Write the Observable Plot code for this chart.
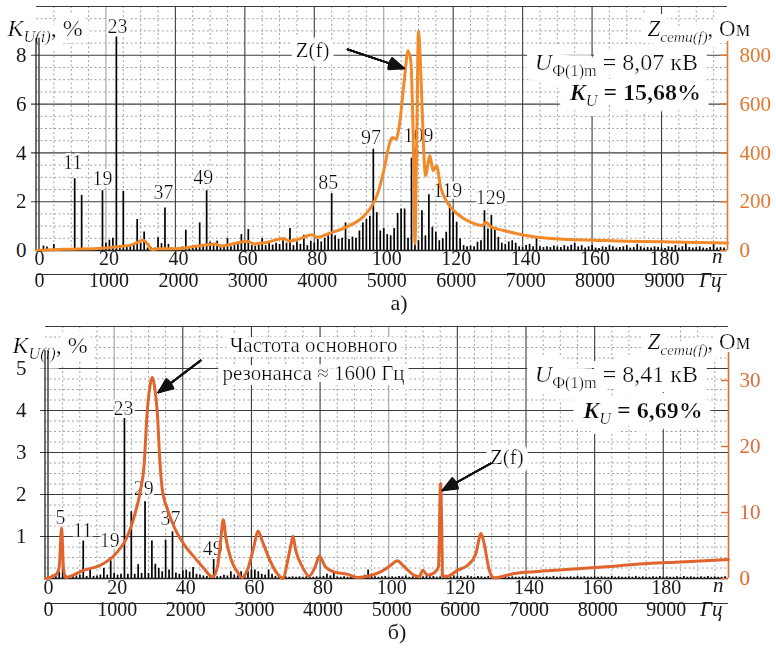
<!DOCTYPE html>
<html><head><meta charset="utf-8">
<script src="https://cdn.jsdelivr.net/npm/d3@7"></script>
<script src="https://cdn.jsdelivr.net/npm/@observablehq/plot@0.6"></script>
<style>
body{margin:0;background:#fff;}
#chart svg{display:block;}
</style></head><body><div id="chart"></div>
<script>
// harmonic numbers n (category axis)
const harmonics = d3.range(1, 199);

// ---- panel а) : harmonic voltage spectrum K_U(i), %
const topK = [
 0,0.18,0.14,0.03,0.25,0.03,0.02,0.03,0.02,0.03,
 2.94,0.03,2.26,0.02,0.03,0.02,0.03,0.05,2.45,0.3,
 0.42,0.5,8.75,0.2,2.42,0.15,0.2,0.22,1.27,0.3,
 0.76,0.1,0.12,0.1,0.52,0.28,1.74,0.25,0.1,0.08,
 0.12,0.15,0.83,0.12,0.18,0.15,1.13,0.2,2.45,0.34,
 0.2,0.38,0.22,0.18,0.49,0.15,0.2,0.25,0.65,0.3,
 0.86,0.2,0.18,0.25,0.49,0.2,0.3,0.22,0.3,0.25,
 0.4,0.3,0.9,0.2,0.35,0.25,0.63,0.2,0.38,0.3,
 0.45,0.35,0.5,0.6,2.33,0.6,0.45,0.5,1.13,0.45,
 0.55,0.5,0.8,1.13,1.27,1.4,4.15,1.55,0.8,0.9,
 0.65,0.6,0.9,1.52,1.7,1.7,0.5,3.78,4.15,0.4,
 1.63,0.6,2.28,0.95,0.75,0.4,0.48,0.75,1.9,1.7,
 1.16,0.48,0.2,0.15,0.18,0.15,0.34,0.4,1.63,0.88,
 1.43,0.82,0.54,0.3,0.25,0.35,0.4,0.3,0.15,0.12,
 0.2,0.25,0.15,0.52,0.15,0.12,0.15,0.12,0.18,0.15,
 0.12,0.2,0.15,0.22,0.3,0.15,0.2,0.1,0.15,0.2,
 0.1,0.08,0.15,0.12,0.2,0.15,0.1,0.12,0.15,0.2,
 0.1,0.12,0.25,0.15,0.1,0.12,0.1,0.15,0.12,0.1,
 0.08,0.15,0.12,0.2,0.1,0.15,0.28,0.12,0.1,0.12,
 0.15,0.1,0.08,0.12,0.25,0.1,0.12,0.1
];
// network impedance Z(f), Ohm, sampled at harmonic number n
const topZn = [0,7.9,17.5,22.3,27.1,29,30.7,32.1,33.3,34.8,39.6,46.3,51.6,53,55.9,60.7,62.6,65.5,71.3,72.7,75.1,79.4,80.8,84.6,89.4,94.2,96.2,98.2,100.1,101.6,102.5,103.5,104.4,105.9,107,107.8,108.5,109,109.5,110,110.7,111.4,112,113.3,114.2,115.2,116.4,118.3,121.2,125,128.4,129.4,130.8,134.6,144.2,153.8,163.4,173,182.6,199];
const topZ = [0,5,8,14,22,33,42,25,4,7,7,18,27,18,25,38,27,31,49,38,45,65,54,72,97,140,174,231,333,435,463,456,503,694,819,776,449,27,449,900,720,449,306,388,327,347,259,197,150,116,102,116,98,82,54,45,41,37,35,31];
const topLabelN = [11,19,23,37,49,85,97,109,119,129];
const topLabelX = [10.4,19,23.3,36.6,48,84,96.3,110,118.4,130.8];
const topLabelY = [3.6,2.94,9.18,2.37,2.98,2.78,4.61,4.69,2.45,2.16];

// ---- panel б)
const botK = [
 0,0.08,0.1,0.15,0.6,0.06,0.05,0.05,0.06,0.08,
 0.89,0.05,0.2,0.05,0.06,0.08,0.24,0.08,0.42,0.12,
 0.08,0.1,3.81,0.1,1.59,0.1,0.33,0.12,1.83,0.12,
 0.89,0.34,0.24,0.16,0.91,0.2,1.11,0.13,0.1,0.18,
 0.2,0.15,0.26,0.1,0.08,0.06,0.05,0.06,0.45,0.04,
 0.05,0.08,0.06,0.16,0.08,0.06,0.16,0.1,0.16,0.2,
 0.2,0.16,0.1,0.08,0.2,0.1,0.05,0.04,0.03,0.04,
 0.03,0.04,0.03,0.04,0.03,0.04,0.05,0.03,0.04,0.03,
 0.05,0.1,0.06,0.12,0.04,0.03,0.04,0.03,0.04,0.03,
 0.04,0.05,0.08,0.2,0.1,0.04,0.03,0.04,0.05,0.03,
 0.04,0.03,0.05,0.04,0.06,0.03,0.04,0.05,0.03,0.04,
 0.06,0.04,0.05,0.03,0.04,0.03,0.05,0.04,0.06,0.04,
 0.05,0.03,0.06,0.04,0.03,0.05,0.04,0.03,0.05,0.04,
 0.03,0.04,0.03,0.05,0.03,0.04,0.03,0.03,0.04,0.03,
 0.05,0.03,0.04,0.03,0.03,0.04,0.03,0.05,0.03,0.04,
 0.03,0.03,0.04,0.03,0.05,0.03,0.04,0.03,0.03,0.04,
 0.03,0.04,0.03,0.03,0.05,0.03,0.04,0.03,0.03,0.04,
 0.03,0.05,0.03,0.04,0.03,0.03,0.04,0.03,0.05,0.03,
 0.04,0.03,0.03,0.04,0.03,0.05,0.03,0.04,0.03,0.03,
 0.04,0.03,0.05,0.03,0.04,0.03,0.03,0.04
];
const botZn = [0,1.2,3.2,4.0,4.7,5.2,5.8,7.3,11.2,16,20.9,23.8,25.8,27.7,28.7,29.6,30.4,31.1,31.8,32.6,33.3,34,35.6,37.5,40.5,43.4,46.2,48.6,50.1,51,51.8,52.5,54,55.9,57.3,58.8,60.7,61.9,63.2,65.6,67.5,69.3,70.4,71.6,72.1,72.9,74.8,76.8,78.6,79.8,81.5,84,87.9,90.8,93.8,97.6,100.6,102.5,104.5,107.4,108.9,109.9,111.3,113.3,114.5,115.1,115.5,115.7,117.1,120.1,123,125.4,126.9,127.8,129.3,130.7,136.6,146.3,156,165.8,175.5,185.2,199];
const botZ = [0,0.15,0.66,1.8,7.7,1.8,0.15,0.35,1.26,2.0,4.0,6.3,9.3,13.4,17,25,29,30.5,29,25,18,13.6,10.4,7.8,5.05,3.2,1.5,0.25,1.77,5.6,8.9,6.3,3.0,1.0,0.15,1.26,4.8,7.2,5.6,2.5,0.76,0,2.3,5.3,6.4,4.3,1.8,0.35,1.8,3.4,1.8,1.0,0.66,0.15,0.35,1.0,2.0,2.7,1.8,0.5,0.25,1.26,0.5,0.86,1.77,14.4,6.3,0.35,0.35,1.26,2.0,3.8,6.8,5.3,1.26,0.1,0.76,1.16,1.5,1.87,2.27,2.5,2.88];
const botLabelN = [5,11,19,23,29,37,49];
const botLabelX = [4.4,10.8,18.7,22.7,28.6,36.4,48.7];
const botLabelY = [1.45,1.14,0.9,4.05,2.14,1.43,0.71];

// ---- ticks
const nTicks = [0,20,40,60,80,100,120,140,160,180];
const hzLabels = ["0","1000","2000","3000","4000","5000","6000","7000","8000","9000"];
const topKTicks = [0,2,4,6,8];
const topZTicks = [0,200,400,600,800];
const botKTicks = [1,2,3,4,5];
const botZTicks = [0,10,20,30];

// ---- annotation texts
const RICH = {
  "KU(i), %": {size: 24, segs: [["K","i"],["U(i)","is"],[", %",""]]},
  "Zсети(f), Ом": {size: 23, segs: [["Z","i"],["сети(f)","is"],[", Ом",""]]},
  "UФ(1)m = 8,07 кВ": {size: 24, segs: [["U","i"],["Ф(1)m","s"],[" = 8,07 кВ",""]]},
  "KU = 15,68%": {size: 24, segs: [["K","ib"],["U","is"],[" = 15,68%","b"]]},
  "UФ(1)m = 8,41 кВ": {size: 24, segs: [["U","i"],["Ф(1)m","s"],[" = 8,41 кВ",""]]},
  "KU = 6,69%": {size: 24, segs: [["K","ib"],["U","is"],[" = 6,69%","b"]]}
};

function richify(svg, H) {
  d3.select(svg).selectAll("text").each(function() {
    const r = RICH[this.textContent];
    if (!r) return;
    const el = d3.select(this);
    el.text(null);
    let shifted = false;
    const sh = 0.26 * r.size;
    for (const [t, f] of r.segs) {
      const ts = el.append("tspan").text(t);
      if (f.includes("i")) ts.attr("font-style", "italic");
      if (f.includes("b")) ts.attr("font-weight", "bold");
      if (f.includes("s")) {
        ts.attr("font-size", (0.68 * r.size) + "px");
        if (!shifted) { ts.attr("dy", sh); shifted = true; }
      } else if (shifted) { ts.attr("dy", -sh); shifted = false; }
    }
  });
  // white halo as one filter per mark group (no duplicate text)
  const defs = d3.select(svg).insert("defs", ":first-child");
  const made = new Set();
  d3.select(svg).selectAll("g").each(function() {
    if (this.getAttribute("stroke") !== "white") return;
    const r = Math.round(parseFloat(this.getAttribute("stroke-width") || "6") / 2);
    const id = `halo-${H}-${r}`;
    if (!made.has(id)) {
      made.add(id);
      const f = defs.append("filter").attr("id", id).attr("filterUnits", "userSpaceOnUse")
        .attr("x", -400).attr("y", -400).attr("width", W + 800).attr("height", 1200);
      f.append("feMorphology").attr("in", "SourceAlpha").attr("operator", "dilate").attr("radius", r).attr("result", "d");
      f.append("feFlood").attr("flood-color", "white").attr("result", "w");
      f.append("feComposite").attr("in", "w").attr("in2", "d").attr("operator", "in").attr("result", "h");
      const m = f.append("feMerge");
      m.append("feMergeNode").attr("in", "h");
      m.append("feMergeNode").attr("in", "SourceGraphic");
    }
    this.removeAttribute("stroke-width");
    this.setAttribute("stroke", "none");
    this.setAttribute("filter", `url(#${id})`);
  });
}

const W = 776;
const FONT = "'Liberation Serif','Times New Roman',Times,serif";

function arrowMarks(arr, color) {
  return [8, 18, 28, 38, 46].map(a => Plot.arrow(arr, {
    x1: "x1", y1: "y1", x2: "x2", y2: "y2",
    stroke: color, strokeWidth: 1.8, headLength: 13, headAngle: a
  }));
}

function panel(c) {
  const zk = v => v * c.zScale;
  const bars = harmonics.map((n, i) => ({n, k: c.K[i]}));
  const zline = c.zN.map((n, i) => ({n, z: c.Z[i]}));
  const fw = W - c.ml - c.mr;
  const minorX = d3.range(5, 199, 5).filter(n => n % 20 !== 0);
  const nMinor = Math.round(c.yMax / c.minorStep);
  const minorY = d3.range(1, nMinor).map(i => i * c.minorStep)
    .filter(v => Math.abs(v / c.majorStep - Math.round(v / c.majorStep)) > 1e-6);
  const majorY = d3.range(c.majorStep, c.yMax - 1e-6, c.majorStep);
  const lightX = [20, 100];
  const darkX = [40, 60, 80, 120, 140, 160, 180];
  const labels = c.labelN.map((n, i) => ({n, x: c.labelX[i], y: c.labelY[i]}));
  const dotted = {stroke: "#8a8a8a", strokeWidth: 0.8, strokeDasharray: "2,2.5"};

  const svg = Plot.plot({
    width: W, height: c.height,
    marginTop: c.mt, marginBottom: c.mb, marginLeft: c.ml, marginRight: c.mr,
    x: {domain: [0, 199], axis: null},
    y: {domain: [0, c.yMax], axis: null},
    style: {fontFamily: FONT, fontSize: "20px", background: "white", color: "#1a1a1a", overflow: "visible"},
    marks: [
      Plot.ruleX(minorX, dotted),
      Plot.ruleY(minorY, dotted),
      Plot.ruleX(lightX, {stroke: "#a0a0a0", strokeWidth: 1.1}),
      Plot.ruleX(darkX, {stroke: "#3c3c3c", strokeWidth: 1.1}),
      Plot.ruleY(majorY, {stroke: "#3c3c3c", strokeWidth: 1.1, insetLeft: -5}),
      Plot.ruleY([c.yMax], {stroke: "#3c3c3c", strokeWidth: 1.2}),
      Plot.text(["KU(i), %"], {frameAnchor: "top-left", text: d => d, textAnchor: "start", dx: c.kLabDx, dy: c.kLabDy, fontSize: 24, fill: "#111", stroke: "white", strokeWidth: 14}),
      Plot.text(["Zсети(f), Ом"], {frameAnchor: "top-right", text: d => d, textAnchor: "start", dx: c.zLabDx, dy: c.zLabDy, fontSize: 23, fill: "#111", stroke: "white", strokeWidth: 14}),
      Plot.text(c.info, {x: "x", y: "y", text: "t", textAnchor: "end", fontSize: 24, fill: "#111", stroke: "white", strokeWidth: 20}),
      Plot.text(c.notes, {x: "x", y: "y", text: "t", textAnchor: c.noteAnchor, lineHeight: 1.3, fontSize: 21, fill: "#111", stroke: "white", strokeWidth: 9}),
      Plot.text(labels, {x: "x", y: "y", text: d => String(d.n), fontSize: 20, fill: "#111", stroke: "white", strokeWidth: 3}),
      Plot.ruleY([0], {stroke: "#222", strokeWidth: 1.3}),
      Plot.ruleX([0], {y1: 0, y2: c.leftTop, stroke: "#222", strokeWidth: 1.3, dx: -0.5}),
      Plot.ruleX([0], {y1: 0, y2: c.leftTop, stroke: "#222", strokeWidth: 1.3, dx: 2.5}),
      Plot.ruleX([199], {y1: 0, y2: c.rightTop, stroke: c.axisColor, strokeWidth: 1.6}),
      Plot.ruleY(c.zTicks, {y: d => zk(d), insetLeft: fw - 7, stroke: c.axisColor, strokeWidth: 1.4}),
      Plot.ruleX(bars, {x: "n", y1: 0, y2: "k", stroke: "#000", strokeWidth: 1.7}),
      Plot.line(zline, {x: "n", y: d => zk(d.z), stroke: c.zColor, strokeWidth: 3, curve: "monotone-x", strokeLinejoin: "round"}),
      ...arrowMarks(c.arrows, "#111"),
      Plot.text(c.kTicks, {y: d => d, text: d => String(d), frameAnchor: "left", textAnchor: "end", dx: c.leftDx, fontSize: 21, fill: "#1a1a1a"}),
      Plot.text(c.zTicks, {y: d => zk(d), text: d => String(d), frameAnchor: "right", textAnchor: "start", dx: c.rightDx, fontSize: 21, fill: c.axisColor}),
      Plot.text(nTicks, {x: d => d, text: d => String(d), frameAnchor: "bottom", dy: c.nDy, dx: 3, fontSize: 20, fill: "#1a1a1a"}),
      Plot.ruleY([0], {dy: c.sepDy, stroke: "#333", strokeWidth: 1.2}),
      Plot.text(nTicks, {x: d => d, text: (d, i) => hzLabels[i], frameAnchor: "bottom", dy: c.hzDy, dx: 3, fontSize: 20, fill: "#1a1a1a"}),
      Plot.text(["n"], {frameAnchor: "bottom-right", text: d => d, dx: -5, dy: c.nDy - 2, fontSize: 21, fontStyle: "italic", fill: "#1a1a1a"}),
      Plot.text(["Гц"], {frameAnchor: "bottom-right", text: d => d, dx: -6, dy: c.hzDy, fontSize: 21, fontStyle: "italic", fill: "#1a1a1a"}),
      Plot.text([c.caption], {frameAnchor: "bottom", text: d => d, dx: c.capDx, dy: c.capDy, fontSize: 22, fill: "#1a1a1a"})
    ]
  });
  richify(svg, c.id);
  return svg;
}

const topSvg = panel({
  id: "a", height: 310, mt: 6, mb: 60, ml: 36, mr: 49,
  yMax: 10, majorStep: 2, minorStep: 0.5, zScale: 0.01,
  K: topK, zN: topZn, Z: topZ,
  labelN: topLabelN, labelX: topLabelX, labelY: topLabelY,
  kTicks: topKTicks, zTicks: topZTicks,
  leftTop: 8.7, rightTop: 8.57, leftDx: -10, rightDx: 12,
  zColor: "#f28a2a", axisColor: "#e0782f",
  kLabDx: -29, kLabDy: 12, zLabDx: -80, zLabDy: 13,
  info: [{x: 190.5, y: 7.72, t: "UФ(1)m = 8,07 кВ"}, {x: 191.4, y: 6.5, t: "KU = 15,68%"}],
  notes: [{x: 79.5, y: 8.29, t: "Z(f)"}], noteAnchor: "middle",
  arrows: [{x1: 89.6, y1: 8.24, x2: 105.8, y2: 7.47}],
  nDy: 14, sepDy: 24, hzDy: 36, caption: "а)", capDx: 17, capDy: 59
});

const bottomSvg = panel({
  id: "b", height: 338, mt: 16, mb: 70, ml: 45, mr: 48,
  yMax: 6, majorStep: 1, minorStep: 0.25, zScale: 0.15714,
  K: botK, zN: botZn, Z: botZ,
  labelN: botLabelN, labelX: botLabelX, labelY: botLabelY,
  kTicks: botKTicks, zTicks: botZTicks,
  leftTop: 5.43, rightTop: 5.38, leftDx: -19, rightDx: 11,
  zColor: "#e0642c", axisColor: "#dc6a32",
  kLabDx: -33, kLabDy: 9, zLabDx: -81, zLabDy: 6,
  info: [{x: 190.1, y: 4.86, t: "UФ(1)m = 8,41 кВ"}, {x: 191.5, y: 4.0, t: "KU = 6,69%"}],
  notes: [{x: 78.1, y: 5.27, t: "Частота основного\nрезонанса ≈ 1600 Гц"}, {x: 134.4, y: 2.93, t: "Z(f)"}], noteAnchor: "middle",
  arrows: [{x1: 45.2, y1: 5.19, x2: 32.9, y2: 4.43}, {x1: 129.7, y1: 2.74, x2: 115.7, y2: 2.1}],
  nDy: 15, sepDy: 25, hzDy: 37, caption: "б)", capDx: 10, capDy: 60
});

document.getElementById("chart").append(topSvg, bottomSvg);
</script>
</body></html>
